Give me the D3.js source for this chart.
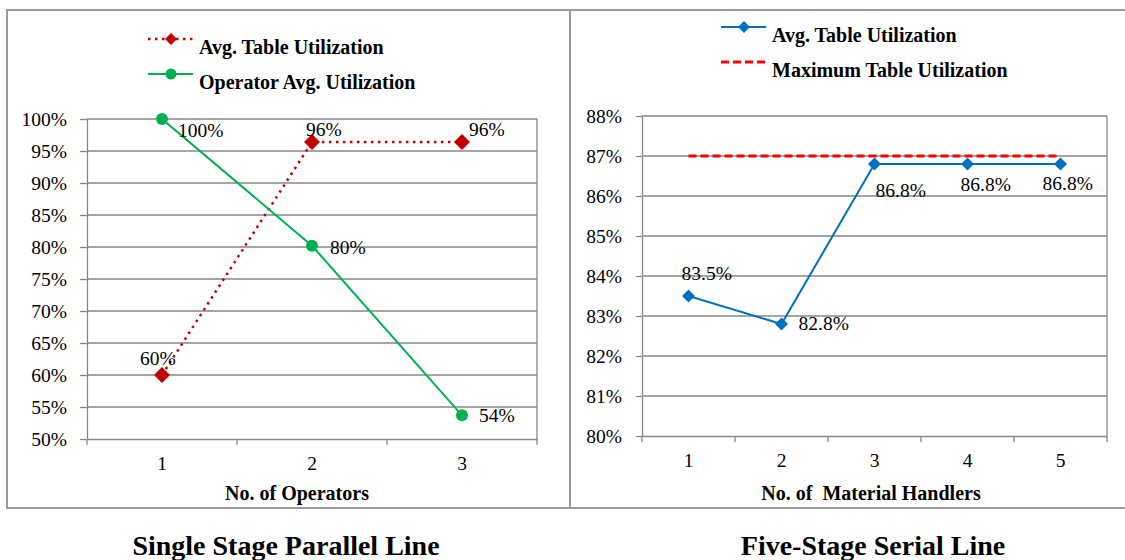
<!DOCTYPE html>
<html>
<head>
<meta charset="utf-8">
<script src="https://cdn.jsdelivr.net/npm/d3@7"></script>
<style>
  body { margin: 0; background: #fff; }
  text { font-family: 'Liberation Serif'; }
</style>
</head>
<body>
<svg id="chart" width="1125" height="560" font-family="Liberation Serif"></svg>
<script>
// Single stage parallel line
const operatorCategories = ['1', '2', '3'];
const avgTableUtilization = [0.60, 0.964, 0.964];
const avgTableLabels = ['60%', '96%', '96%'];
const operatorUtilization = [1.00, 0.802, 0.537];
const operatorLabels = ['100%', '80%', '54%'];
const leftYTicks = [0.50, 0.55, 0.60, 0.65, 0.70, 0.75, 0.80, 0.85, 0.90, 0.95, 1.00];

// Five-stage serial line
const handlerCategories = ['1', '2', '3', '4', '5'];
const serialTableUtilization = [0.835, 0.828, 0.868, 0.868, 0.868];
const serialLabels = ['83.5%', '82.8%', '86.8%', '86.8%', '86.8%'];
const maxTableUtilization = [0.87, 0.87, 0.87, 0.87, 0.87];
const rightYTicks = [0.80, 0.81, 0.82, 0.83, 0.84, 0.85, 0.86, 0.87, 0.88];

// where each data label sits relative to its marker
const avgTableLabelOffsets = [[-22, -10], [-6, -6], [7, -6]];
const operatorLabelOffsets = [[16, 18], [18, 8], [17, 7]];
const serialLabelOffsets = [[-7, -16], [17, 6], [1, 33], [-7, 27], [-18, 26]];

const fontFamily = 'Liberation Serif';
const gridColor = '#878787';
const frameColor = '#9a9a9a';
const svg = d3.select('#chart');

const diamond = r => `M0,${-r}L${r},0L0,${r}L${-r},0Z`;

// panel frames
svg.append('rect')
    .attr('x', 7).attr('y', 10).attr('width', 563).attr('height', 498)
    .attr('fill', 'none').attr('stroke', frameColor).attr('stroke-width', 2);
svg.append('rect')
    .attr('x', 570).attr('y', 10).attr('width', 560).attr('height', 498)
    .attr('fill', 'none').attr('stroke', frameColor).attr('stroke-width', 2);

function drawPanel(p) {
    const x = d3.scaleBand().domain(p.categories).range([p.left, p.right]);
    const y = d3.scaleLinear().domain(p.yDomain).range([p.bottom, p.top]);
    const cx = c => x(c) + x.bandwidth() / 2;
    const g = svg.append('g');

    // gridlines
    g.selectAll('.grid')
        .data(p.yTicks.slice(1))
      .join('line')
        .attr('x1', p.left).attr('x2', p.right)
        .attr('y1', d => y(d)).attr('y2', d => y(d))
        .attr('stroke', gridColor).attr('stroke-width', 1.3);
    g.append('line')
        .attr('x1', p.right).attr('x2', p.right)
        .attr('y1', p.top).attr('y2', p.bottom)
        .attr('stroke', gridColor).attr('stroke-width', 1.3);

    // y axis
    const yAxis = d3.axisLeft(y)
        .tickValues(p.yTicks)
        .tickFormat(d3.format('.0%'))
        .tickSizeInner(p.yTickSize)
        .tickSizeOuter(0)
        .tickPadding(p.yPadding);
    const ya = g.append('g')
        .attr('transform', `translate(${p.left},0)`)
        .call(yAxis);

    // x axis, labels in the middle of each band, ticks on band edges
    const xAxis = d3.axisBottom(x).tickSize(0).tickPadding(17);
    const xa = g.append('g')
        .attr('transform', `translate(0,${p.bottom})`)
        .call(xAxis);
    const edges = p.categories.map(c => x(c)).concat([p.right]);
    g.selectAll('.xtick')
        .data(edges)
      .join('line')
        .attr('x1', d => d).attr('x2', d => d)
        .attr('y1', p.bottom).attr('y2', p.bottom + 6)
        .attr('stroke', gridColor).attr('stroke-width', 1.3);

    [ya, xa].forEach(a => {
        a.attr('font-family', fontFamily).attr('font-size', 19.5);
        a.selectAll('path, line').attr('stroke', gridColor).attr('stroke-width', 1.3);
        a.selectAll('text').attr('fill', '#000')
            .attr('font-family', fontFamily).attr('font-size', 19.5);
    });

    g.append('text')
        .attr('x', p.xTitleX).attr('y', 500)
        .attr('text-anchor', 'middle')
        .attr('font-family', fontFamily)
        .attr('font-size', 20).attr('font-weight', 'bold')
        .attr('xml:space', 'preserve')
        .text(p.xTitle);

    g.append('text')
        .attr('x', p.titleX).attr('y', 555)
        .attr('text-anchor', 'middle')
        .attr('font-family', fontFamily)
        .attr('font-size', 28).attr('font-weight', 'bold')
        .text(p.title);

    // series
    p.series.forEach(s => {
        const pts = p.categories.map((c, i) => ({c, v: s.values[i], i}));
        g.append('path')
            .datum(pts)
            .attr('fill', 'none')
            .attr('stroke', s.color)
            .attr('stroke-width', s.width)
            .attr('stroke-dasharray', s.dash || null)
            .attr('d', d3.line().x(d => cx(d.c)).y(d => y(d.v)));

        if (s.marker === 'diamond') {
            g.selectAll(null).data(pts).join('path')
                .attr('transform', d => `translate(${cx(d.c)},${y(d.v)})`)
                .attr('d', diamond(s.markerSize))
                .attr('fill', s.color);
        } else if (s.marker === 'circle') {
            g.selectAll(null).data(pts).join('circle')
                .attr('cx', d => cx(d.c)).attr('cy', d => y(d.v))
                .attr('r', s.markerSize)
                .attr('fill', s.color);
        }

        if (s.labels) {
            g.selectAll(null).data(pts).join('text')
                .attr('x', d => cx(d.c) + s.offsets[d.i][0])
                .attr('y', d => y(d.v) + s.offsets[d.i][1])
                .attr('font-family', fontFamily)
                .attr('font-size', 19.5)
                .text(d => s.labels[d.i]);
        }
    });

    // legend
    p.series.forEach((s, i) => {
        const ly = p.legendY + i * 35;
        const lg = g.append('g');
        lg.append('line')
            .attr('x1', p.legendX).attr('x2', p.legendX + 45)
            .attr('y1', ly).attr('y2', ly)
            .attr('stroke', s.color)
            .attr('stroke-width', s.width)
            .attr('stroke-dasharray', s.dash || null);
        if (s.marker === 'diamond') {
            lg.append('path')
                .attr('transform', `translate(${p.legendX + 23},${ly})`)
                .attr('d', diamond(6))
                .attr('fill', s.color);
        } else if (s.marker === 'circle') {
            lg.append('circle')
                .attr('cx', p.legendX + 23).attr('cy', ly)
                .attr('r', 5.5)
                .attr('fill', s.color);
        }
        lg.append('text')
            .attr('x', p.legendX + 51).attr('y', ly + 15)
            .attr('font-family', fontFamily)
            .attr('font-size', 20).attr('font-weight', 'bold')
            .text(s.name);
    });
}

drawPanel({
    categories: operatorCategories,
    yDomain: [0.5, 1.0],
    yTicks: leftYTicks,
    left: 87, right: 537, top: 119, bottom: 439,
    yTickSize: 7, yPadding: 13,
    xTitle: 'No. of Operators', xTitleX: 297,
    title: 'Single Stage Parallel Line', titleX: 286,
    legendX: 148, legendY: 39,
    series: [
        {name: 'Avg. Table Utilization', values: avgTableUtilization, color: '#C00000',
         width: 2.5, dash: '2.5,4.5', marker: 'diamond', markerSize: 8,
         labels: avgTableLabels, offsets: avgTableLabelOffsets},
        {name: 'Operator Avg. Utilization', values: operatorUtilization, color: '#00B050',
         width: 2, marker: 'circle', markerSize: 6,
         labels: operatorLabels, offsets: operatorLabelOffsets}
    ]
});

drawPanel({
    categories: handlerCategories,
    yDomain: [0.80, 0.88],
    yTicks: rightYTicks,
    left: 642, right: 1107, top: 116, bottom: 436,
    yTickSize: 6, yPadding: 14,
    xTitle: 'No. of  Material Handlers', xTitleX: 871,
    title: 'Five-Stage Serial Line', titleX: 873,
    legendX: 721, legendY: 27,
    series: [
        {name: 'Avg. Table Utilization', values: serialTableUtilization, color: '#0070C0',
         width: 2, marker: 'diamond', markerSize: 6.5,
         labels: serialLabels, offsets: serialLabelOffsets},
        {name: 'Maximum Table Utilization', values: maxTableUtilization, color: '#FF0000',
         width: 3, dash: '8,4'}
    ]
});
</script>
</body>
</html>
